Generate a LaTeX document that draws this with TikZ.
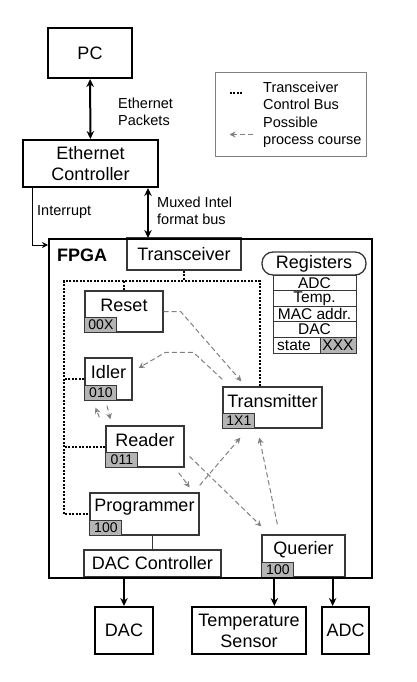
\documentclass[tikz,border=0pt]{standalone}
\usepackage{fontspec}
\setmainfont{Liberation Sans}
\usetikzlibrary{arrows, arrows.meta, positioning, calc}
\definecolor{procgray}{RGB}{128,128,128}
\definecolor{edgegray}{RGB}{55,55,55}
\definecolor{taggray}{RGB}{180,180,180}

\begin{document}
\begin{tikzpicture}[x=1pt, y=-1pt]
  \tikzstyle{outer} = [rectangle, draw=black, line width=2pt, inner sep=0pt, align=center, font=\fontsize{18}{21}\selectfont]
  \tikzstyle{inner} = [rectangle, draw=edgegray, line width=1.3pt, inner sep=0pt, align=center, font=\fontsize{18}{21}\selectfont]
  \tikzstyle{tag} = [rectangle, draw=edgegray, line width=1.1pt, fill=taggray, inner sep=0pt, minimum width=32pt, minimum height=15pt, anchor=south west, font=\fontsize{14}{14}\selectfont]
  \tikzstyle{statename} = [inner sep=0pt, font=\fontsize{18}{21}\selectfont]
  \tikzstyle{lbl} = [align=left, anchor=west, inner sep=0pt, font=\fontsize{14.5}{17}\selectfont]
  \tikzstyle{regrow} = [rectangle, draw=edgegray, line width=1pt, minimum width=83pt, minimum height=15.6pt, inner sep=0pt, font=\fontsize{15.5}{15.5}\selectfont]
  \tikzstyle{link} = [line width=2pt, >={Stealth[length=8pt,width=7.5pt]}]
  \tikzstyle{bus} = [line width=2pt, dash pattern=on 2pt off 1.5pt]
  \tikzstyle{process} = [procgray, line width=1pt, dash pattern=on 5pt off 3pt, ->, >={Stealth[length=6pt,width=6pt]}]

  \useasboundingbox (0,0) rectangle (416,682);

  % outside the FPGA
  \node[outer, minimum width=84pt, minimum height=50pt] (pc) at (90,53) {PC};
  \node[outer, minimum width=135pt, minimum height=47pt] (ethctrl) at (90.5,163.5) {Ethernet\\Controller};
  \node[outer, minimum width=58pt, minimum height=47pt] (dac) at (124,630.5) {DAC};
  \node[outer, minimum width=114pt, minimum height=47pt] (temp) at (249,630.5) {Temperature\\Sensor};
  \node[outer, minimum width=47pt, minimum height=47pt] (adc) at (345.5,630.5) {ADC};

  % legend
  \node[rectangle, draw=procgray, line width=1pt, minimum width=151pt, minimum height=83pt] (legend) at (290.5,114.5) {};
  \draw[bus] ([xshift=15pt,yshift=-21pt]legend.north west) -- ++(12,0);
  \draw[process] ([xshift=38pt,yshift=-62pt]legend.north west) -- ++(-23,0);
  \node[lbl] (legbus) at (263,96) {Transceiver\\Control Bus};
  \node[lbl] (legproc) at (263,132.5) {Possible\\process course};

  % inside the FPGA
  \node[inner, minimum width=114pt, minimum height=32pt] (transceiver) at (184,254) {Transceiver};
  \node[inner, rounded corners=11pt, minimum width=104pt, minimum height=23pt] (registers) at (314,263.5) {Registers};
  \foreach \reg [count=\i] in {ADC, Temp., MAC addr., DAC}
    \node[regrow] (reg\i) at (314.5,{282.8+(\i-1)*15.6}) {\reg};
  \node[regrow] (reg5) at (314.5,345.2) {};
  \node[regrow, fill=taggray, minimum width=36pt, anchor=east] (statecode) at (reg5.east) {XXX};
  \node[inner sep=0pt, font=\fontsize{15.5}{15.5}\selectfont] (statelbl) at (294,345.2) {state};

  \node[inner, minimum width=78pt, minimum height=41pt] (reset) at (124,311.5) {};
  \node[statename, yshift=-15pt] (resetname) at (reset.north) {Reset};
  \node[tag] (resettag) at (reset.south west) {00X};

  \node[inner, minimum width=47pt, minimum height=42pt] (idler) at (108.5,379) {};
  \node[statename, yshift=-15pt] (idlername) at (idler.north) {Idler};
  \node[tag] (idlertag) at (idler.south west) {010};

  \node[inner, minimum width=99pt, minimum height=41pt] (transmitter) at (272.5,407.5) {};
  \node[statename, yshift=-15pt] (transmittername) at (transmitter.north) {Transmitter};
  \node[tag] (transmittertag) at (transmitter.south west) {1X1};

  \node[inner, minimum width=78pt, minimum height=41pt] (reader) at (145,446.5) {};
  \node[statename, yshift=-15pt] (readername) at (reader.north) {Reader};
  \node[tag] (readertag) at (reader.south west) {011};

  \node[inner, minimum width=109pt, minimum height=42pt] (programmer) at (144.5,514) {};
  \node[statename, yshift=-15pt] (programmername) at (programmer.north) {Programmer};
  \node[tag] (programmertag) at (programmer.south west) {100};

  \node[inner, minimum width=83pt, minimum height=42pt] (querier) at (303.5,556) {};
  \node[statename, yshift=-15pt] (queriername) at (querier.north) {Querier};
  \node[tag] (queriertag) at (querier.south west) {100};

  \node[inner, minimum width=137pt, minimum height=27pt] (dacctrl) at (152.5,563.5) {DAC Controller};

  \node[draw, line width=2pt, inner sep=0pt, minimum width=323pt, minimum height=339pt, anchor=north west] (fpga) at (48,238) {};
  \node[anchor=west, inner sep=0pt, font=\bfseries\fontsize{18}{21}\selectfont] (fpgalbl) at (57,255) {FPGA};

  % links to the outside
  \draw[link,<->] (pc) -- (ethctrl);
  \node[lbl] (pktlbl) at (118,112) {Ethernet\\Packets};
  \coordinate (muxtop) at ([xshift=-11pt]ethctrl.south east);
  \draw[link,<->] (muxtop) -- (muxtop |- fpga.north);
  \node[lbl] (muxlbl) at (157,211) {Muxed Intel\\format bus};
  \draw[line width=1pt,->,>={Stealth[length=6pt,width=6pt]}] ([xshift=10pt]ethctrl.south west) |- ([yshift=-7pt]fpga.north west);
  \node[lbl] (intlbl) at (37,212) {Interrupt};

  \draw[link,->] (dac.north |- dacctrl.south) -- (dac);
  \coordinate (qtemp) at ([xshift=13pt]querier.south west);
  \draw[link,->] (qtemp) -- (qtemp |- temp.north);
  \coordinate (qadc) at ([xshift=-13pt]querier.south east);
  \draw[link,->] (qadc) -- (qadc |- adc.north);
  \draw[edgegray, line width=1.3pt] (dacctrl.north |- programmer.south) -- (dacctrl.north);

  % transceiver control bus
  \coordinate (busNW) at (64,281);
  \coordinate (busNE) at (260,281);
  \draw[bus] (transmitter.north -| busNE) -- (busNE) -- (busNW) -- (busNW |- programmer.west) -- (programmer.west);
  \draw[bus] (transceiver.south) -- (transceiver.south |- busNW);
  \draw[bus] (reset.north) -- (reset.north |- busNW);
  \draw[bus] (idler.west) -- (idler.west -| busNW);
  \draw[bus] (reader.west) -- (reader.west -| busNW);

  % possible process course
  \draw[process] (reset.east) -- ++(17,0) -- ([xshift=19pt,yshift=5pt]transmitter.north west);
  \draw[process] ([yshift=7pt]transmitter.north west) -- ++(-29,-27) -- ++(-28,0) -- ([xshift=6pt,yshift=11pt]idler.east);
  \draw[process] ([xshift=-6pt,yshift=8pt]reader.north west) -- ([xshift=-13pt,yshift=-7pt]idler.south);
  \draw[process] ([xshift=-1.5pt,yshift=-5pt]idler.south) -- ([xshift=5pt,yshift=6pt]reader.north west);
  \draw[process] ([xshift=-6pt,yshift=-5pt]reader.south east) -- ([xshift=-10pt,yshift=5pt]programmer.north east);
  \draw[process] ([yshift=7pt]programmer.north east) -- ([xshift=18pt,yshift=-9pt]transmitter.south west);
  \draw[process] ([xshift=5pt,yshift=-10pt]reader.east) -- ([yshift=8pt]querier.north west);
  \draw[process] ([xshift=16pt,yshift=10pt]querier.north west) -- ([xshift=37pt,yshift=-9pt]transmitter.south west);
\end{tikzpicture}
\end{document}
